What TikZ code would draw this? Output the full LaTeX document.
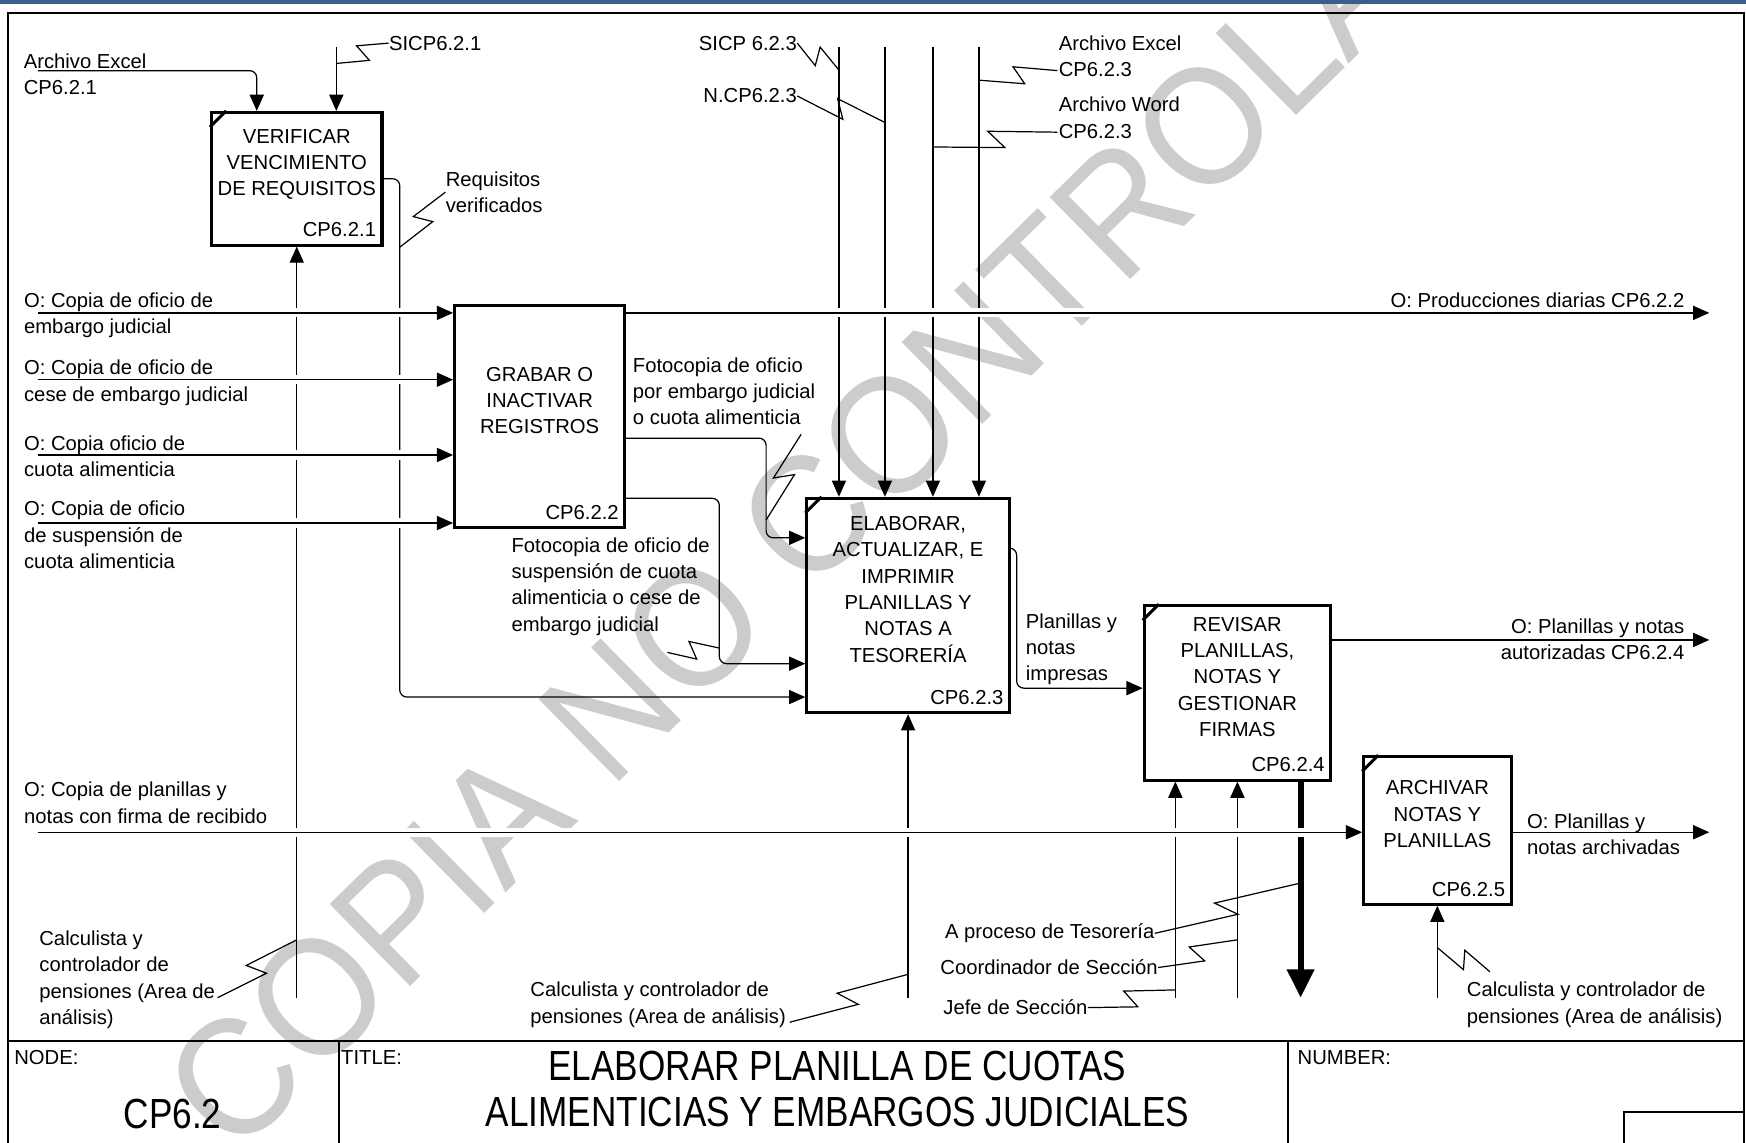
\documentclass[tikz,border=0pt]{standalone}
\usepackage{fontspec}
\setmainfont{Liberation Sans}
\newfontfamily\titlefont{Liberation Sans}[FakeStretch=0.835]
\newfontfamily\markfont{Liberation Sans}[FakeStretch=0.93]
\usetikzlibrary{arrows.meta,positioning,calc}
\definecolor{barblue}{HTML}{3A5F8C}
\pgfdeclarelayer{back}
\pgfdeclarelayer{wires}
\pgfsetlayers{back,wires,main}

\begin{document}
\begin{tikzpicture}[
    x=0.55pt, y=-0.55pt,
    every node/.style={font=\fontsize{10}{13}\selectfont},
    fn/.style={draw, rectangle, line width=1.5pt, align=center, inner sep=0pt},
    code/.style={anchor=south east, inner xsep=3.5pt, inner ysep=4.5pt},
    lab/.style={anchor=north west, align=left, inner sep=0pt},
    rlab/.style={anchor=north east, align=right, inner sep=0pt},
    tag/.style={inner sep=0pt},
    conn/.style={line width=0.6pt},
    arr/.style={conn, -{Triangle[length=8pt,width=7pt]}},
    elbow/.style={rounded corners=3.5pt},
    over/.style={preaction={draw=white, line width=4.5pt, -}},
    squig/.style={to path={-- ($(\tikztostart)!0.55!(\tikztotarget)!4.5pt!-90:(\tikztotarget)$) -- ($(\tikztostart)!0.43!(\tikztotarget)!4.5pt!90:(\tikztotarget)$) -- (\tikztotarget)}},
    callarr/.style={line width=3pt, -{Triangle[length=14pt,width=13pt]}},
    frameline/.style={line width=1pt},
    big/.style={font=\titlefont\fontsize{20.8}{22.5}\selectfont, align=center},
    wmark/.style={font=\markfont\fontsize{82.5}{82.5}\selectfont, text=gray!40, inner sep=0pt}
]
\useasboundingbox (0,0) rectangle (1568,1026);

\begin{pgfonlayer}{back}
\node[wmark, rotate=44.5, anchor=base west] (wm) at (210.7,1041.3) {COPIA NO CONTROLADA};
\end{pgfonlayer}

\fill[barblue] (0,0) rectangle (1568,4);
\draw[frameline] (7,1030) -- (7,11.5) -- (1566,11.5) -- (1566,1030);
\draw[frameline] (7,935) -- (1566,935) (304,935) -- (304,1030) (1157,935) -- (1157,1030) (1458,1030) |- (1566,999);
\node[lab] (nodehd) at (12.5,943) {NODE:};
\node[lab] (titlehd) at (306,943) {TITLE:};
\node[lab] (numhd) at (1165,943) {NUMBER:};
\node[big] (nodeid) at (155,1000) {CP6.2};
\node[big] (title) at (752,978) {ELABORAR PLANILLA DE CUOTAS\\ALIMENTICIAS Y EMBARGOS JUDICIALES};

\node[fn, minimum width=84.2pt, minimum height=65.5pt] (b1) at (266.5,160.5) {VERIFICAR\\VENCIMIENTO\\DE REQUISITOS\\[3pt]\mbox{}};
\node[fn, minimum width=84pt, minimum height=110pt] (b2) at (484.6,374) {GRABAR O\\INACTIVAR\\REGISTROS\\[3pt]\mbox{}};
\node[fn, minimum width=100.1pt, minimum height=105.9pt] (b3) at (815.5,543.75) {ELABORAR,\\ACTUALIZAR, E\\IMPRIMIR\\PLANILLAS Y\\NOTAS A\\TESORERÍA\\[3pt]\mbox{}};
\node[fn, minimum width=92.1pt, minimum height=86.1pt] (b4) at (1111.25,622.25) {REVISAR\\PLANILLAS,\\NOTAS Y\\GESTIONAR\\FIRMAS\\[3pt]\mbox{}};
\node[fn, minimum width=72.8pt, minimum height=72.9pt] (b5) at (1290.8,745.75) {ARCHIVAR\\NOTAS Y\\PLANILLAS\\[3pt]\mbox{}};
\node[code] (b1c) at (b1.south east) {CP6.2.1};
\node[code] (b2c) at (b2.south east) {CP6.2.2};
\node[code] (b3c) at (b3.south east) {CP6.2.3};
\node[code] (b4c) at (b4.south east) {CP6.2.4};
\node[code] (b5c) at (b5.south east) {CP6.2.5};
\foreach \b in {b1,b3,b4,b5}
    \draw[line width=1.5pt] ([yshift=-8pt]\b.north west) -- ([xshift=8pt]\b.north west);

\begin{pgfonlayer}{wires}
\coordinate (top) at (0,42);
\coordinate (bot) at (0,896);
\coordinate (ae1s) at (34,63.5);
\coordinate (s1) at (302,42);
\coordinate (rq) at (359,626);
\coordinate (i1) at (34,281);
\coordinate (i2) at (34,341);
\coordinate (i3) at (34,408.6);
\coordinate (i4) at (34,469.7);
\coordinate (o1) at (1535,281);
\coordinate (f1) at (688,483);
\coordinate (f2) at (646,596);
\coordinate (k1) at (753.4,42);
\coordinate (k2) at (794.7,42);
\coordinate (k3) at (837.8,42);
\coordinate (k4) at (879.1,42);
\coordinate (pl) at (913,618);
\coordinate (o4) at (1535,574.7);
\coordinate (m4) at (1055.5,896);
\coordinate (cl) at (1168,896);
\coordinate (cp) at (34,747.4);
\coordinate (o5) at (1535,747.4);

\draw[arr, elbow] (ae1s) -| ($(b1.north west)+(42,0)$);
\draw[arr] (s1) -- (s1 |- b1.north);
\draw[arr] (b1.south |- bot) -- (b1.south);
\draw[arr, elbow] (b1.east) -| (rq) -- (rq -| b3.west);
\draw[arr, elbow] ($(b2.east)+(0,19.5)$) -| (f1) -- (f1 -| b3.west);
\draw[arr, elbow] ($(b2.east)+(0,73.5)$) -| (f2) -- (f2 -| b3.west);
\foreach \k in {k1,k2,k3,k4}
    \draw[arr] (\k) -- (\k |- b3.north);
\draw[arr] (b3.south |- bot) -- (b3.south);
\draw[arr, elbow] ($(b3.east)+(0,-51.5)$) -| (pl) -- (pl -| b4.west);
\draw[arr] (o4 -| b4.east) -- (o4);
\draw[arr] (m4) -- (m4 |- b4.south);
\draw[arr] (b4.south |- bot) -- (b4.south);
\draw[callarr] (cl |- b4.south) -- (cl);
\draw[arr] (o5 -| b5.east) -- (o5);
\draw[arr] (b5.south |- bot) -- (b5.south);
\foreach \i in {i1,i2,i3,i4}
    \draw[arr, over] (\i) -- (\i -| b2.west);
\draw[arr, over] (o1 -| b2.east) -- (o1);
\draw[arr, over] (cp) -- (cp -| b5.west);
\end{pgfonlayer}

\node[lab] (ae1) at (21,47.7) {Archivo Excel\\CP6.2.1};
\node[tag, anchor=base west] (sicp1) at (349,45) {SICP6.2.1};
\node[lab] (req) at (400,153.7) {Requisitos\\verificados};
\node[lab] (in1) at (21.3,262.3) {O: Copia de oficio de\\embargo judicial};
\node[lab] (in2) at (21.3,323.2) {O: Copia de oficio de\\cese de embargo judicial};
\node[lab] (in3) at (21.3,390.7) {O: Copia oficio de\\cuota alimenticia};
\node[lab] (in4) at (21.3,449.7) {O: Copia de oficio\\de suspensión de\\cuota alimenticia};
\node[tag, anchor=base east] (prod) at (1513,276.5) {O: Producciones diarias CP6.2.2};
\node[lab] (fo1) at (568,320.7) {Fotocopia de oficio\\por embargo judicial\\o cuota alimenticia};
\node[lab] (fo2) at (459,482.3) {Fotocopia de oficio de\\suspensión de cuota\\alimenticia o cese de\\embargo judicial};
\node[tag, anchor=base east] (sicp3) at (716,45) {SICP 6.2.3};
\node[tag, anchor=base east] (ncp) at (716,92.5) {N.CP6.2.3};
\node[lab] (ae3) at (950.5,31.7) {Archivo Excel\\CP6.2.3};
\node[lab] (aw3) at (950.5,87) {Archivo Word\\CP6.2.3};
\node[lab] (pni) at (921,550.7) {Planillas y\\notas\\impresas};
\node[rlab] (aut) at (1513,555.2) {O: Planillas y notas\\autorizadas CP6.2.4};
\node[lab] (cop) at (21.3,702.1) {O: Copia de planillas y\\notas con firma de recibido};
\node[lab] (arc) at (1371,730.2) {O: Planillas y\\notas archivadas};
\node[lab] (cal1) at (35,835.7) {Calculista y\\controlador de\\pensiones (Area de\\análisis)};
\node[lab] (cal3) at (476,881.7) {Calculista y controlador de\\pensiones (Area de análisis)};
\node[lab] (cal5) at (1317,881.7) {Calculista y controlador de\\pensiones (Area de análisis)};
\node[tag, anchor=base east] (apt) at (1037,843) {A proceso de Tesorería};
\node[tag, anchor=base east] (coo) at (1040,875.5) {Coordinador de Sección};
\node[tag, anchor=base east] (jef) at (977,911.5) {Jefe de Sección};

\coordinate (s1q) at (302,57);
\coordinate (rqq) at (359,222);
\coordinate (f1q) at (688,467);
\coordinate (f2q) at (646,582);
\coordinate (k1q) at (753.4,63);
\coordinate (k2q) at (794.7,110);
\coordinate (k3q) at (837.8,132);
\coordinate (k4q) at (879.1,72);
\coordinate (m1q) at (266.5,844);
\coordinate (m3q) at (815.5,875);
\coordinate (m4q) at (1055.5,889);
\coordinate (m4r) at (1111.25,844);
\coordinate (clq) at (1168,793);
\coordinate (m5q) at (1290.8,851);
\coordinate (fo1s) at ($(fo1.south east)+(-13,8)$);
\coordinate (fo2s) at ($(fo2.south)+(51,15)$);
\coordinate (ae3s) at ($(ae3.south west)+(-1,-6)$);
\coordinate (aw3s) at ($(aw3.south west)+(-1,-6)$);
\coordinate (cal1s) at ($(cal1.east)+(2,16)$);
\coordinate (cal3s) at ($(cal3.south east)+(3,-5)$);
\coordinate (cal5s) at ($(cal5.north west)+(21,-9)$);

\draw[conn] (sicp1.west) to[squig] (s1q);
\draw[conn] (req.west) to[squig] (rqq);
\draw[conn] (fo1s) to[squig] (f1q);
\draw[conn] (fo2s) to[squig] (f2q);
\draw[conn] (sicp3.east) to[squig] (k1q);
\draw[conn] (ncp.east) to[squig] (k2q);
\draw[conn] (aw3s) to[squig] (k3q);
\draw[conn] (ae3s) to[squig] (k4q);
\draw[conn] (cal1s) to[squig] (m1q);
\draw[conn] (cal3s) to[squig] (m3q);
\draw[conn] (jef.east) to[squig] (m4q);
\draw[conn] (coo.east) to[squig] (m4r);
\draw[conn] (apt.east) to[squig] (clq);
\draw[conn] (cal5s) to[squig] (m5q);
\end{tikzpicture}
\end{document}
